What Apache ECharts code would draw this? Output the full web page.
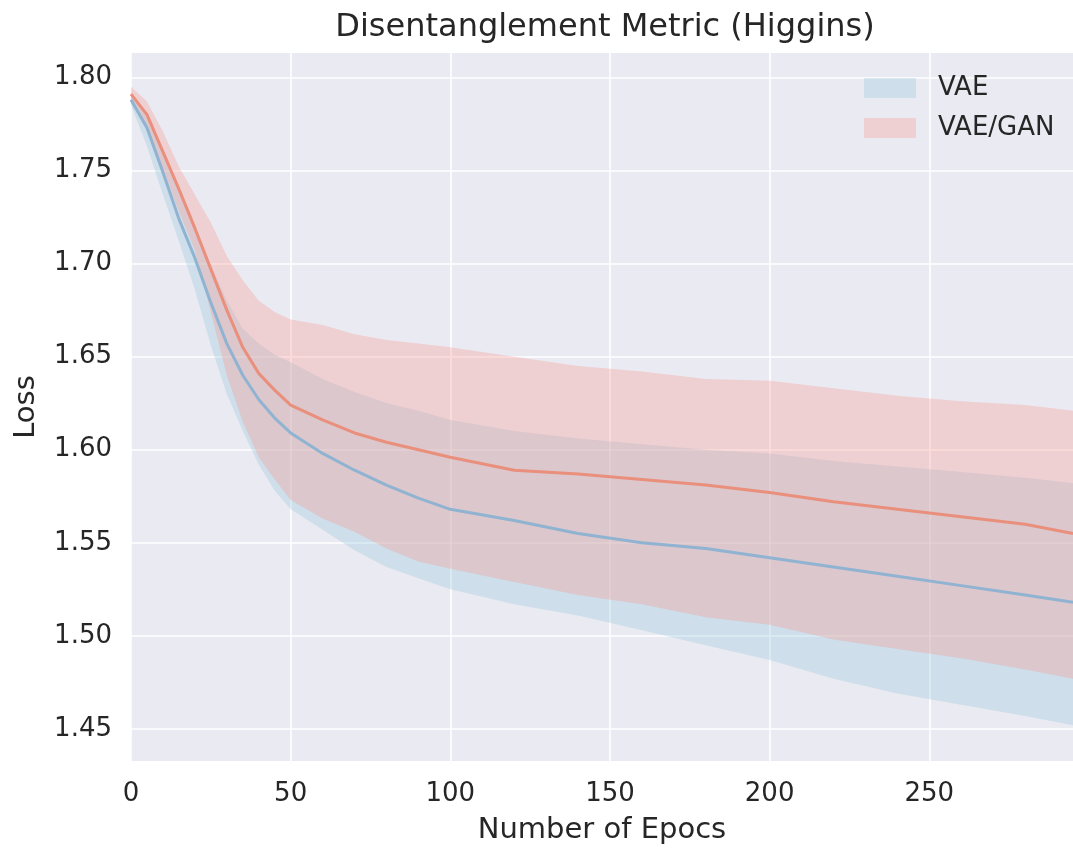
<!DOCTYPE html>
<html>
<head>
<meta charset="utf-8">
<script src="https://cdn.jsdelivr.net/npm/echarts@6/dist/echarts.min.js"></script>
<style>
html,body{margin:0;padding:0;background:#ffffff;}
#chart{width:1073px;height:850px;}
</style>
</head>
<body>
<div id="chart"></div>
<script>
// ---- data ----
const epochs  = [0,5,10,15,20,25,30,35,40,45,50,60,70,80,90,100,120,140,160,180,200,220,240,260,280,295];
const vaeMean = [1.788,1.773,1.749,1.724,1.703,1.679,1.657,1.640,1.627,1.617,1.609,1.598,1.589,1.581,1.574,1.568,1.562,1.555,1.550,1.547,1.542,1.537,1.532,1.527,1.522,1.518];
const vaeLow  = [1.785,1.763,1.737,1.712,1.686,1.656,1.630,1.610,1.592,1.578,1.568,1.557,1.546,1.537,1.531,1.525,1.517,1.511,1.503,1.495,1.487,1.477,1.469,1.463,1.457,1.452];
const vaeHigh = [1.790,1.779,1.760,1.740,1.719,1.699,1.680,1.665,1.657,1.651,1.647,1.638,1.631,1.625,1.621,1.616,1.610,1.606,1.603,1.600,1.598,1.594,1.591,1.588,1.585,1.582];
const ganMean = [1.791,1.780,1.760,1.740,1.719,1.697,1.675,1.655,1.641,1.632,1.624,1.616,1.609,1.604,1.600,1.596,1.589,1.587,1.584,1.581,1.577,1.572,1.568,1.564,1.560,1.555];
const ganLow  = [1.787,1.772,1.751,1.728,1.707,1.674,1.640,1.615,1.596,1.584,1.573,1.563,1.556,1.547,1.540,1.536,1.529,1.522,1.517,1.510,1.506,1.498,1.493,1.488,1.482,1.477];
const ganHigh = [1.795,1.787,1.771,1.752,1.737,1.722,1.704,1.691,1.680,1.674,1.670,1.667,1.662,1.659,1.657,1.655,1.650,1.645,1.642,1.638,1.637,1.633,1.629,1.626,1.624,1.621];
const xTicks = [0,50,100,150,200,250];
const yTicks = [1.45,1.50,1.55,1.60,1.65,1.70,1.75,1.80];
const seriesNames = ['VAE','VAE/GAN'];
const titleText = 'Disentanglement Metric (Higgins)';
const xName = 'Number of Epocs';
const yName = 'Loss';

const FONT = 'DejaVu Sans';
const TXT = '#262626';
const blueBand = 'rgba(144,197,215,0.3)';
const redBand = 'rgba(250,147,135,0.3)';
const blueLine = '#90b3d1';
const redLine = '#e98f7c';

function pairs(xs, ys){ return xs.map((x,i)=>[x, ys[i]]); }

function bandSeries(name, low, high, color, z){
  return {
    name: name,
    type: 'custom',
    z: z,
    silent: true,
    itemStyle: {color: color},
    encode: {x: 0, y: 1},
    data: [[epochs[0], low[0]]],
    renderItem: function(params, api){
      const pts = [];
      for (let i = 0; i < epochs.length; i++) pts.push(api.coord([epochs[i], high[i]]));
      for (let i = epochs.length - 1; i >= 0; i--) pts.push(api.coord([epochs[i], low[i]]));
      return {
        type: 'polygon',
        shape: {points: pts},
        style: {fill: color, stroke: null}
      };
    }
  };
}

function lineSeries(name, ys, color, z){
  return {
    name: name,
    type: 'line',
    z: z,
    data: pairs(epochs, ys),
    showSymbol: false,
    symbol: 'none',
    silent: true,
    lineStyle: {color: color, width: 3},
    itemStyle: {color: color}
  };
}

const chart = echarts.init(document.getElementById('chart'), null, {renderer: 'canvas'});
chart.setOption({
  animation: false,
  backgroundColor: '#ffffff',
  title: {
    text: titleText,
    left: 605,
    textAlign: 'center',
    top: 12,
    padding: 0,
    textStyle: {fontFamily: FONT, fontSize: 32, fontWeight: 'normal', color: TXT}
  },
  grid: {left: 131, right: 0, top: 53, bottom: 88, containLabel: false,
         show: true, backgroundColor: '#eaeaf2', borderWidth: 0},
  legend: {
    data: seriesNames,
    orient: 'vertical',
    left: 864,
    top: 75,
    padding: 0,
    itemWidth: 52,
    itemHeight: 20,
    itemGap: 14,
    icon: 'rect',
    textStyle: {fontFamily: FONT, fontSize: 26, color: TXT, padding: [0,0,0,17]}
  },
  xAxis: {
    type: 'value',
    min: 0,
    max: 295,
    name: xName,
    nameLocation: 'middle',
    nameGap: 55,
    nameTextStyle: {fontFamily: FONT, fontSize: 29, color: TXT},
    axisLine: {show: false},
    axisTick: {show: false, customValues: xTicks},
    axisLabel: {customValues: xTicks, margin: 20, fontFamily: FONT, fontSize: 26, color: TXT},
    splitLine: {show: true, lineStyle: {color: '#ffffff', width: 1.6}}
  },
  yAxis: {
    type: 'value',
    min: 1.4328,
    max: 1.8131,
    name: yName,
    nameLocation: 'middle',
    nameGap: 90,
    nameTextStyle: {fontFamily: FONT, fontSize: 29, color: TXT},
    axisLine: {show: false},
    axisTick: {show: false, customValues: yTicks},
    axisLabel: {customValues: yTicks, margin: 19, fontFamily: FONT, fontSize: 26, color: TXT,
                formatter: function(v){ return v.toFixed(2); }},
    splitLine: {show: true, lineStyle: {color: '#ffffff', width: 1.6}}
  },
  series: [
    bandSeries(seriesNames[0], vaeLow, vaeHigh, blueBand, 1),
    bandSeries(seriesNames[1], ganLow, ganHigh, redBand, 2),
    lineSeries(seriesNames[0] + ' mean', vaeMean, blueLine, 3),
    lineSeries(seriesNames[1] + ' mean', ganMean, redLine, 4)
  ]
});
</script>
</body>
</html>
